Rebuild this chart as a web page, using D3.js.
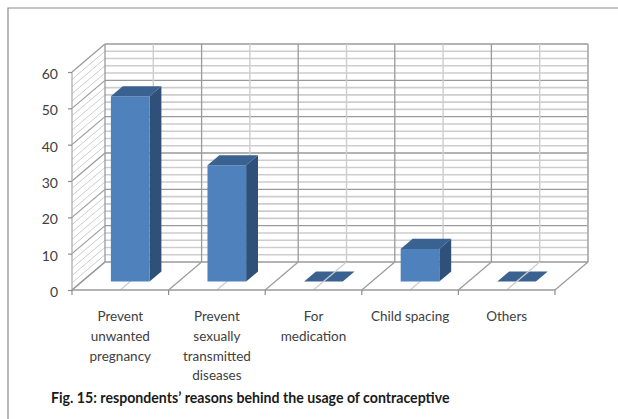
<!DOCTYPE html>
<html>
<head>
<meta charset="utf-8">
<script src="https://cdnjs.cloudflare.com/ajax/libs/d3/7.8.5/d3.min.js"></script>
<style>
  html, body { margin: 0; padding: 0; background: #fff; }
  svg { display: block; }
  text { font-family: Lato, "Open Sans", sans-serif; }
</style>
</head>
<body>
<svg id="chart" width="618" height="419"></svg>
<script>
// Reasons for contraceptive use, in percent of respondents
const categories = ["Prevent unwanted pregnancy", "Prevent sexually transmitted diseases", "For medication", "Child spacing", "Others"];
const categoryLines = [
  ["Prevent", "unwanted", "pregnancy"],
  ["Prevent", "sexually", "transmitted", "diseases"],
  ["For", "medication"],
  ["Child spacing"],
  ["Others"]
];
const values = [51, 32, 0, 9, 0];
const majorTicks = [0, 10, 20, 30, 40, 50, 60];
const minorTicks = [2, 4, 6, 8, 12, 14, 16, 18, 22, 24, 26, 28, 32, 34, 36, 38, 42, 44, 46, 48, 52, 54, 56, 58];
const caption = "Fig. 15: respondents\u2019 reasons behind the usage of contraceptive";

const svg = d3.select("#chart");

// Front plane scales plus an oblique projection for the depth axis
const x = d3.scaleBand().domain(categories).range([72, 555]);
const y = d3.scaleLinear().domain([0, 60]).range([290, 72]);
const depthX = d3.scaleLinear().domain([0, 1]).range([0, 33]);
const depthY = d3.scaleLinear().domain([0, 1]).range([0, -28]);
const px = (xPos, d) => xPos + depthX(d);
const py = (v, d) => y(v) + depthY(d);

const MAJOR = "#9a9a9a", MINOR = "#cdcdcd";
const line = (g, x1, y1, x2, y2, stroke, width) => g.append("line")
  .attr("x1", x1).attr("y1", y1).attr("x2", x2).attr("y2", y2)
  .attr("stroke", stroke).attr("stroke-width", width);

// Outer frame runs off the right and bottom edges
svg.append("path").attr("d", "M8,419V8H618").attr("fill", "none")
  .attr("stroke", "#8c8c8c").attr("stroke-width", 1.2);

const grid = svg.append("g");
const x0 = x.range()[0], x1 = x.range()[1], band = x.bandwidth();

// Horizontal grid on the back wall and its continuation down the side wall
[[minorTicks, MINOR, 1.6], [majorTicks, MAJOR, 1.3]].forEach(([ticks, stroke, w]) => {
  ticks.forEach(t => {
    line(grid, px(x0, 0), py(t, 0), px(x0, 1), py(t, 1), stroke, stroke === MAJOR ? 1.2 : 1);
    if (t > 0) line(grid, px(x0, 1), py(t, 1), px(x1, 1), py(t, 1), stroke, w);
  });
});

// Vertical grid on the back wall
categories.forEach(c => {
  const left = x(c), mid = left + band / 2;
  line(grid, px(mid, 1), py(0, 1), px(mid, 1), py(60, 1), MINOR, 1.4);
  line(grid, px(left, 1), py(0, 1), px(left, 1), py(60, 1), MAJOR, 1.3);
});
line(grid, px(x1, 1), py(0, 1), px(x1, 1), py(60, 1), "#b0b0b0", 1.8);
line(grid, x0, y(0), x0, y(60), "#a8a8a8", 1.2);

// Far edge of the floor
line(grid, px(x0, 1), py(0, 1), px(x1, 1), py(0, 1), MAJOR, 1.3);

// Column geometry: width and depth are shares of the category slot and the floor
const barWidth = band * 0.4;
const barDepth = [0.3, 0.66];
const barX = c => x(c) + band / 2 - barWidth / 2;
const rows = categories.map((c, i) => ({ c, v: values[i] }));

function drawColumn(g, d) {
  const xl = barX(d.c), xr = xl + barWidth, [a, b] = barDepth;
  const poly = (pts, fill) => g.append("polygon")
    .attr("points", pts.map(p => p.join(",")).join(" ")).attr("fill", fill);
  const top = [[px(xl, a), py(d.v, a)], [px(xr, a), py(d.v, a)], [px(xr, b), py(d.v, b)], [px(xl, b), py(d.v, b)]];
  if (d.v > 0) {
    poly([[px(xr, a), py(0, a)], [px(xr, b), py(0, b)], [px(xr, b), py(d.v, b)], [px(xr, a), py(d.v, a)]], "#2f5079");
    poly([[px(xl, a), py(0, a)], [px(xr, a), py(0, a)], [px(xr, a), py(d.v, a)], [px(xl, a), py(d.v, a)]], "#4f81bd");
  }
  poly(top, "#3a6291");
}

// Flat zero columns lie under the floor lines; raised columns stand in front of them
const flatBars = svg.append("g");
rows.filter(d => d.v === 0).forEach(d => drawColumn(flatBars, d));

const floor = svg.append("g");
categories.forEach(c => {
  const left = x(c), mid = left + band / 2;
  line(floor, left, y(0), px(left, 1), py(0, 1), MAJOR, 1.2);
  line(floor, mid, y(0), px(mid, 1), py(0, 1), MINOR, 1.2);
});
line(floor, x1, y(0), px(x1, 1), py(0, 1), MAJOR, 1.2);

const raisedBars = svg.append("g");
rows.filter(d => d.v > 0).forEach(d => drawColumn(raisedBars, d));

// Value axis
const yAxis = d3.axisLeft(y).tickValues(majorTicks).tickSize(4).tickPadding(10);
const yG = svg.append("g").attr("transform", `translate(${x0},0)`).call(yAxis);
yG.select(".domain").remove();
yG.selectAll("line").attr("stroke", "#8c8c8c").attr("stroke-width", 1.2);
yG.selectAll("text").attr("font-size", 14).attr("fill", "#404040").attr("dy", "0.46em")
  .style("font-family", 'Lato, "Open Sans", sans-serif');

// Category axis with boundary ticks
const baseline = svg.append("g");
line(baseline, x0, y(0), x1, y(0), "#9a9a9a", 1.3);
categories.concat([null]).forEach(c => {
  const xt = c === null ? x1 : x(c);
  line(baseline, xt, y(0), xt, y(0) + 5, "#8c8c8c", 1.2);
});

// Wrapped category labels
const labels = svg.append("g");
categories.forEach((c, i) => {
  categoryLines[i].forEach((t, k) => {
    labels.append("text")
      .attr("x", x(c) + band / 2)
      .attr("y", 321 + k * 19.8)
      .attr("text-anchor", "middle")
      .attr("font-size", 13.5)
      .attr("fill", "#404040")
      .text(t);
  });
});

svg.append("text")
  .attr("x", 51).attr("y", 403)
  .attr("font-size", 14.15).attr("font-weight", "bold").attr("fill", "#1a1a1a")
  .text(caption);
</script>
</body>
</html>
